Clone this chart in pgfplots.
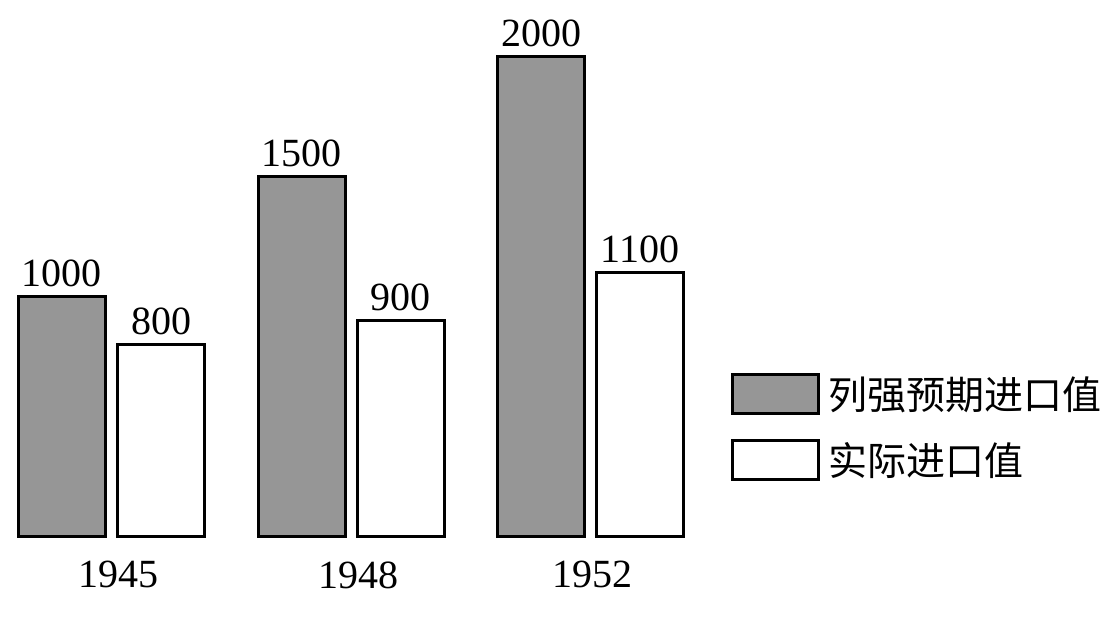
\documentclass[border=0pt]{standalone}
\usepackage{pgfplots}
\pgfplotsset{compat=1.18}
\usepackage{fontspec}
\setmainfont{Liberation Serif}
\newfontfamily\cjk{Noto Sans CJK SC}
\definecolor{bargray}{RGB}{150,150,150}
\begin{document}
\begin{tikzpicture}
\begin{axis}[
  x=0.5pt, y=0.12pt,
  xmin=0, xmax=1117, ymin=-337.5, ymax=2237.5,
  hide axis, clip=false,
  legend cell align=left,
  legend style={draw=none, fill=none, inner sep=0pt, row sep=12pt,
    at={(axis cs:731,683)}, anchor=north west,
    font=\fontsize{19.5pt}{22pt}\selectfont\cjk,
    nodes={inner sep=1pt},
    /tikz/every odd column/.append style={column sep=3pt}},
  legend image code/.code={\draw[#1, line width=1.5pt] (0pt,-9.75pt) rectangle (43pt,9.75pt);},
  nodes near coords,
  /pgf/number format/1000 sep={},
  /pgf/number format/assume math mode=true,
  every node near coord/.append style={font=\fontsize{20pt}{22pt}\selectfont, anchor=south, inner sep=0pt, yshift=4.5pt},
]
\path (axis cs:0,-337.5) rectangle (axis cs:1117,2237.5);
\addplot[ybar, bar shift=0pt, bar width=87, fill=bargray, draw=black, line width=1.5pt]
  coordinates {(61.5,1000) (301.5,1500) (541,2000)};
\addlegendentry{列强预期进口值}
\addplot[ybar, bar shift=0pt, bar width=87, fill=white, draw=black, line width=1.5pt]
  coordinates {(161,800) (400.5,900) (640,1100)};
\addlegendentry{实际进口值}
\node[font=\fontsize{20pt}{22pt}\selectfont] at (axis cs:118,-158) {1945};
\node[font=\fontsize{20pt}{22pt}\selectfont] at (axis cs:358,-158) {1948};
\node[font=\fontsize{20pt}{22pt}\selectfont] at (axis cs:592,-158) {1952};
\end{axis}
\end{tikzpicture}
\end{document}
